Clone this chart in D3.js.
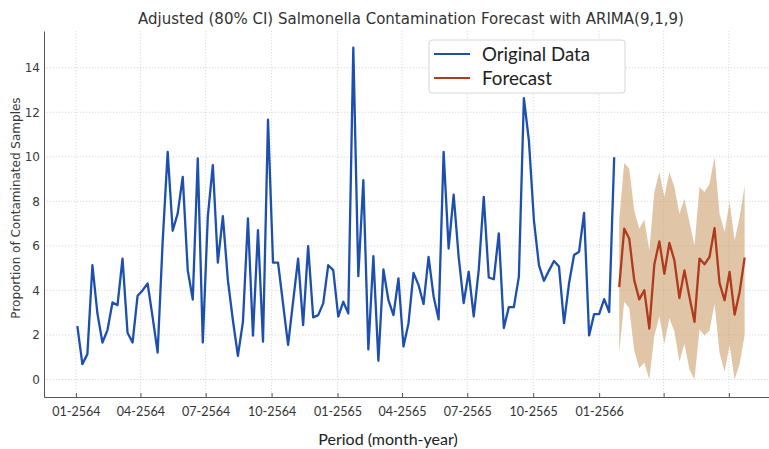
<!DOCTYPE html>
<html>
<head>
<meta charset="utf-8">
<script src="https://cdn.jsdelivr.net/npm/d3@7/dist/d3.min.js"></script>
<style>
  html, body { margin: 0; padding: 0; background: #fff; }
  svg { display: block; }
</style>
</head>
<body>
<svg id="chart" width="769" height="449"></svg>
<script>
// Weekly proportion of contaminated samples (observed)
const originalValues = [
  2.40, 0.69, 1.14, 5.13, 2.96, 1.66, 2.22, 3.46, 3.34, 5.43, 2.10, 1.66, 3.76,
  4.00, 4.31, 2.80, 1.21, 6.18, 10.22, 6.68, 7.46, 9.10, 4.91, 3.59, 9.93, 1.66,
  7.31, 9.63, 5.25, 7.34, 4.46, 2.66, 1.06, 2.59, 7.23, 1.97, 6.71, 1.70, 11.67,
  5.25, 5.25, 3.40, 1.55, 3.50, 5.43, 2.44, 5.99, 2.79, 2.89, 3.42, 5.13, 4.91,
  2.82, 3.49, 2.97, 14.90, 4.64, 8.95, 1.35, 5.54, 0.84, 4.94, 3.56, 2.89, 4.54,
  1.48, 2.52, 4.79, 4.24, 3.39, 5.51, 3.74, 2.70, 10.22, 5.88, 8.30, 5.51, 3.43,
  4.84, 2.83, 4.92, 8.20, 4.58, 4.50, 6.56, 2.31, 3.25, 3.25, 4.62, 12.64, 10.73,
  7.15, 5.14, 4.43, 4.89, 5.32, 5.07, 2.53, 4.32, 5.59, 5.74, 7.48, 1.98, 2.94,
  2.94, 3.61, 3.03, 9.98
];

// ARIMA(9,1,9) forecast and adjusted 80% interval
const forecastValues = [
  4.15, 6.77, 6.32, 4.45, 3.60, 4.01, 2.29, 5.17, 6.20, 4.75, 6.13, 5.35, 3.66,
  4.90, 3.71, 2.59, 5.43, 5.17, 5.50, 6.80, 4.33, 3.56, 4.83, 2.91, 3.93, 5.47
];
const upperValues = [
  7.20, 9.72, 9.46, 7.59, 6.77, 7.19, 5.80, 8.42, 9.31, 8.19, 9.31, 8.64, 7.44,
  8.12, 7.07, 6.02, 8.64, 8.42, 8.79, 9.98, 7.44, 6.62, 7.97, 6.25, 7.29, 8.71
];
const lowerValues = [
  1.20, 3.50, 3.20, 1.30, 0.50, 0.75, 0.00, 1.95, 2.85, 1.60, 2.75, 2.15, 0.80,
  1.60, 0.45, 0.00, 2.25, 1.98, 2.20, 3.40, 1.20, 0.35, 1.55, 0.00, 0.70, 2.00
];

const yTicks = [0, 2, 4, 6, 8, 10, 12, 14];
const xTickLabels = [
  "01-2564", "04-2564", "07-2564", "10-2564", "01-2565", "04-2565",
  "07-2565", "10-2565", "01-2566", "", ""
];

const titleText = "Adjusted (80% CI) Salmonella Contamination Forecast with ARIMA(9,1,9)";
const xLabel = "Period (month-year)";
const yLabel = "Proportion of Contaminated Samples";
const seriesNames = ["Original Data", "Forecast"];

(function drawChart() {
  const colors = { original: "#1c4fae", forecast: "#b03a1c", band: "#cc9e6c" };

  // Weekly dates
  const firstDate = new Date(Date.UTC(2021, 0, 3));
  const week = i => d3.utcDay.offset(firstDate, 7 * i);
  const original = originalValues.map((v, i) => ({ date: week(i), v }));
  const nObs = originalValues.length;
  const forecast = forecastValues.map((v, i) => ({
    date: week(nObs + i), v, hi: upperValues[i], lo: lowerValues[i]
  }));

  const svg = d3.select("#chart");
  const plotLeft = 44, plotRight = 778, plotTop = 31, plotBottom = 397;

  // 5% padding on each side of the date range
  const lastDate = forecast[forecast.length - 1].date;
  const span = lastDate - firstDate;
  const x = d3.scaleUtc()
    .domain([new Date(+firstDate - span * 0.05), new Date(+lastDate + span * 0.05)])
    .range([plotLeft, plotRight]);

  const y = d3.scaleLinear().domain([-0.786, 15.65]).range([plotBottom, plotTop]);

  const tickDates = d3.utcMonth.every(3).range(new Date(Date.UTC(2021, 0, 1)), new Date(Date.UTC(2023, 7, 1)));

  // grid
  const grid = svg.append("g").attr("stroke", "#cfcfcf").attr("stroke-width", 0.8)
    .attr("stroke-dasharray", "1.2,1.8");
  grid.selectAll("line.h").data(yTicks).join("line").attr("class", "h")
    .attr("x1", plotLeft).attr("x2", 769)
    .attr("y1", d => y(d)).attr("y2", d => y(d));
  grid.selectAll("line.v").data(tickDates).join("line").attr("class", "v")
    .attr("x1", d => x(d)).attr("x2", d => x(d))
    .attr("y1", plotTop).attr("y2", plotBottom);

  // confidence band
  svg.append("path")
    .datum(forecast)
    .attr("fill", colors.band)
    .attr("fill-opacity", 0.6)
    .attr("d", d3.area().x(d => x(d.date)).y0(d => y(d.lo)).y1(d => y(d.hi)));

  // lines
  const line = d3.line().x(d => x(d.date)).y(d => y(d.v));
  svg.append("path").datum(original)
    .attr("fill", "none").attr("stroke", colors.original).attr("stroke-width", 2.3)
    .attr("stroke-linejoin", "round").attr("d", line);
  svg.append("path").datum(forecast)
    .attr("fill", "none").attr("stroke", colors.forecast).attr("stroke-width", 2.3)
    .attr("stroke-linejoin", "round").attr("d", line);

  // axes
  const yAxis = d3.axisLeft(y).tickValues(yTicks).tickSize(0).tickPadding(4);
  const gy = svg.append("g").attr("transform", `translate(${plotLeft},0)`).call(yAxis);
  gy.select(".domain").attr("stroke", "#555").attr("stroke-width", 1);
  gy.selectAll("text").attr("font-family", "DejaVu Sans").attr("font-size", 12).attr("fill", "#3a3a3a");

  const xAxis = d3.axisBottom(x).tickValues(tickDates).tickSize(-4)
    .tickFormat((d, i) => xTickLabels[i]).tickPadding(10);
  const gx = svg.append("g").attr("transform", `translate(0,${plotBottom})`).call(xAxis);
  gx.select(".domain").attr("stroke", "#555").attr("stroke-width", 1);
  gx.selectAll(".tick line").attr("stroke", "#555");
  gx.selectAll("text").attr("font-family", "Lato").attr("font-size", 12.5).attr("fill", "#333");

  // titles
  svg.append("text").attr("x", 411).attr("y", 24).attr("text-anchor", "middle")
    .attr("font-family", "DejaVu Sans").attr("font-size", 15).attr("fill", "#333")
    .text(titleText);
  svg.append("text").attr("x", 388).attr("y", 445).attr("text-anchor", "middle")
    .attr("font-family", "Lato").attr("font-size", 16).attr("fill", "#222")
    .text(xLabel);
  svg.append("text").attr("transform", "translate(20,208) rotate(-90)")
    .attr("text-anchor", "middle")
    .attr("font-family", "DejaVu Sans").attr("font-size", 12).attr("fill", "#3a3a3a")
    .text(yLabel);

  // legend
  const legendTextWidths = [108, 70];
  const lg = svg.append("g");
  lg.append("rect").attr("x", 429).attr("y", 40).attr("width", 196).attr("height", 53)
    .attr("rx", 3).attr("fill", "#fff").attr("stroke", "#d6d6d6");
  [colors.original, colors.forecast].forEach((c, i) => {
    const yy = 54 + i * 24;
    lg.append("line").attr("x1", 434).attr("x2", 470).attr("y1", yy).attr("y2", yy)
      .attr("stroke", c).attr("stroke-width", 2.2);
    lg.append("text").attr("x", 482).attr("y", yy + 6.5)
      .attr("font-family", "Lato").attr("font-size", 18.5).attr("fill", "#222")
      .attr("textLength", legendTextWidths[i]).attr("lengthAdjust", "spacingAndGlyphs")
      .text(seriesNames[i]);
  });
})();
</script>
</body>
</html>
